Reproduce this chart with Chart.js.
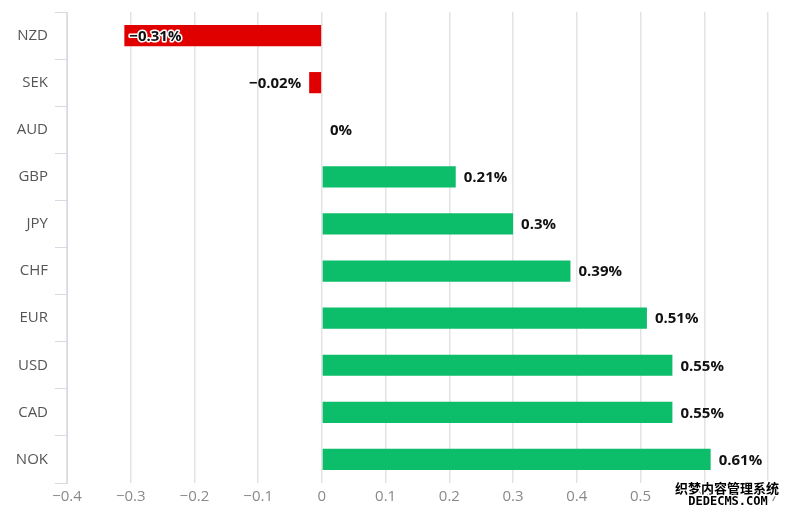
<!DOCTYPE html>
<html>
<head>
<meta charset="utf-8">
<script src="https://cdn.jsdelivr.net/npm/chart.js@4"></script>
<style>
  html, body { margin: 0; padding: 0; background: #fff; }
  #wrap { width: 787px; height: 515px; position: relative; }
</style>
</head>
<body>
<div id="wrap"><canvas id="fxChart"></canvas></div>
<script>
const currencies = ['NZD', 'SEK', 'AUD', 'GBP', 'JPY', 'CHF', 'EUR', 'USD', 'CAD', 'NOK'];
const changes = [-0.31, -0.02, 0, 0.21, 0.3, 0.39, 0.51, 0.55, 0.55, 0.61];
const xTicks = [-0.4, -0.3, -0.2, -0.1, 0, 0.1, 0.2, 0.3, 0.4, 0.5, 0.6, 0.7];
const watermark = ['织梦内容管理系统', 'DEDECMS.COM'];

const C = {
  red: '#e10000',
  green: '#0cbd6a',
  grid: '#e3e3e3',
  axis: '#d5dbe3',
  tick: '#8a8a8a',
  cat: '#555',
};

const minus = s => String(s).replace('-', '\u2212');

// value labels next to the bars
const barLabels = {
  id: 'barLabels',
  afterDatasetsDraw(chart) {
    const { ctx, chartArea } = chart;
    const meta = chart.getDatasetMeta(0);
    ctx.save();
    ctx.font = "bold 15px 'Open Sans', sans-serif";
    ctx.textBaseline = 'middle';
    meta.data.forEach((bar, i) => {
      const v = changes[i];
      const txt = minus(v) + '%';
      const w = ctx.measureText(txt).width;
      if (v >= 0) {
        ctx.textAlign = 'left';
        ctx.fillStyle = '#111';
        ctx.fillText(txt, bar.x + 8, bar.y + 1);
      } else if (bar.x - 8 - w > chartArea.left) {
        ctx.textAlign = 'right';
        ctx.fillStyle = '#111';
        ctx.fillText(txt, bar.x - 8, bar.y + 1);
      } else {
        ctx.textAlign = 'left';
        ctx.lineWidth = 3;
        ctx.strokeStyle = '#fff';
        ctx.lineJoin = 'round';
        ctx.strokeText(txt, bar.x + 5, bar.y + 1);
        ctx.fillStyle = '#111';
        ctx.fillText(txt, bar.x + 5, bar.y + 1);
      }
    });
    ctx.restore();
  },
  afterDraw(chart) {
    const { ctx } = chart;
    ctx.save();
    ctx.textAlign = 'center';
    ctx.textBaseline = 'middle';
    ctx.lineJoin = 'round';
    ctx.strokeStyle = '#fff';
    ctx.lineWidth = 3;
    ctx.fillStyle = '#000';
    ctx.font = "bold 13px 'Noto Sans CJK SC', sans-serif";
    ctx.strokeText(watermark[0], 727, 488);
    ctx.fillText(watermark[0], 727, 488);
    ctx.font = "bold 12px 'DejaVu Sans Mono', monospace";
    ctx.strokeText(watermark[1], 728, 502);
    ctx.fillText(watermark[1], 728, 502);
    ctx.restore();
  },
};

new Chart(document.getElementById('fxChart'), {
  type: 'bar',
  data: {
    labels: currencies,
    datasets: [{
      data: changes,
      backgroundColor: changes.map(v => (v < 0 ? C.red : C.green)),
      borderWidth: 0,
      barPercentage: 0.45,
      categoryPercentage: 1,
    }],
  },
  options: {
    indexAxis: 'y',
    responsive: true,
    maintainAspectRatio: false,
    animation: false,
    layout: { padding: { top: 12, right: 19, bottom: 4, left: 0 } },
    plugins: { legend: { display: false }, tooltip: { enabled: false } },
    scales: {
      x: {
        min: -0.4,
        max: 0.7,
        afterBuildTicks: s => { s.ticks = xTicks.map(v => ({ value: v })); },
        ticks: {
          color: C.tick,
          padding: 5,
          font: { size: 15, family: "'Open Sans', sans-serif" },
          callback: v => minus(Math.round(v * 10) / 10),
        },
        grid: { color: C.grid, lineWidth: 1.5, drawTicks: false },
        border: { display: false },
      },
      y: {
        afterFit: s => { s.width = 67; s.paddingTop = 0; s.paddingBottom = 0; },
        ticks: {
          color: C.cat,
          padding: 7,
          font: { size: 15, family: "'Open Sans', sans-serif" },
        },
        grid: { drawOnChartArea: false, drawTicks: true, tickLength: 12, color: C.axis },
        border: { display: true, color: C.axis },
      },
    },
  },
  plugins: [barLabels],
});
</script>
</body>
</html>
